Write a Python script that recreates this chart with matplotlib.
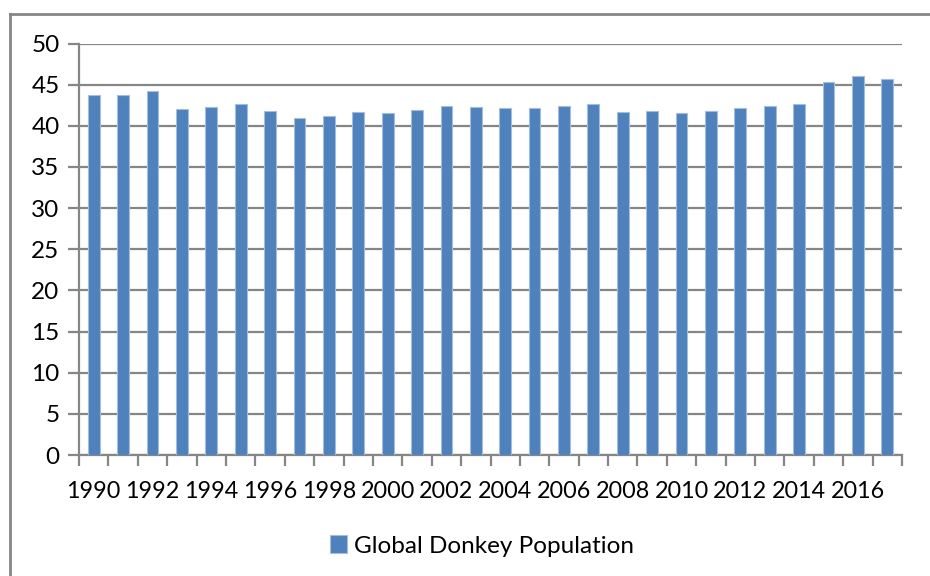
import matplotlib
matplotlib.use("Agg")
import matplotlib.pyplot as plt
from matplotlib.lines import Line2D

# global donkey population, millions
years = list(range(1990, 2018))
population = [43.7, 43.8, 44.2, 42.0, 42.3, 42.7, 41.85, 41.0, 41.2, 41.7,
              41.5, 41.9, 42.45, 42.3, 42.2, 42.2, 42.45, 42.6, 41.7, 41.8,
              41.5, 41.8, 42.2, 42.45, 42.6, 45.3, 46.0, 45.7]
series_name = "Global Donkey Population"
y_ticks = list(range(0, 55, 5))

plt.rcParams['font.family'] = ['Lato', 'DejaVu Sans']
grey = '#868686'
fs = 17.5

fig = plt.figure(figsize=(9.3, 5.76), dpi=100)
W, H = 930, 576
ax = fig.add_axes([79 / W, (H - 455) / H, (902 - 79) / W, (455 - 43.5) / H])

x = list(range(len(years)))
ax.bar(x, population, width=0.4, color='#4F81BD', edgecolor='#A3BEDD',
       linewidth=0.8, zorder=3, label=series_name)

ax.set_xlim(-0.5, len(years) - 0.5)
ax.set_ylim(0, 50)
ax.set_yticks(y_ticks)
ax.yaxis.grid(True, color=grey, linewidth=1.6, zorder=0)
ax.tick_params(axis='y', length=8, width=1.6, color=grey, labelsize=fs, pad=6)

# labels every other year, tick marks between categories
ax.set_xticks(x[::2])
ax.set_xticklabels([str(y) for y in years[::2]])
ax.set_xticks([i - 0.5 for i in range(len(years) + 1)], minor=True)
ax.tick_params(axis='x', which='major', length=0, labelsize=16.8, pad=19)
ax.tick_params(axis='x', which='minor', length=8, width=1.6, color=grey)

for s in ['top', 'right']:
    ax.spines[s].set_visible(False)
for s in ['left', 'bottom']:
    ax.spines[s].set_color(grey)
    ax.spines[s].set_linewidth(1.6)

# chart border (only left and top visible in the crop)
top = 1 - 14 / H
fig.add_artist(Line2D([10 / W, 10 / W], [0, top], color=grey, lw=2))
fig.add_artist(Line2D([10 / W, 1], [top, top], color=grey, lw=2))

fig.legend(loc='center', bbox_to_anchor=(482 / W, 1 - 546 / H), frameon=False,
           fontsize=fs, handlelength=0.7, handleheight=0.7, handletextpad=0.3)

fig.savefig("out.png", dpi=100)
